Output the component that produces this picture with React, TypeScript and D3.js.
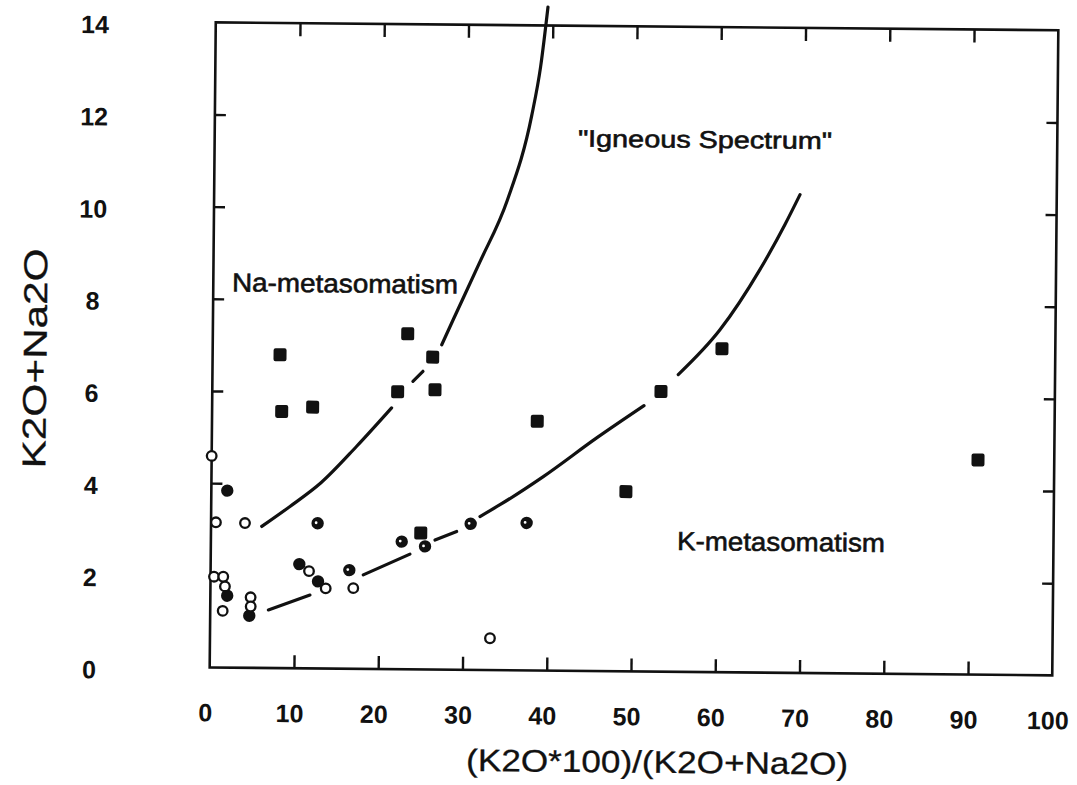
import React, { useEffect, useRef } from "react";
import * as d3 from "d3";

const xTicks = [0, 10, 20, 30, 40, 50, 60, 70, 80, 90, 100];
const yTicks = [0, 2, 4, 6, 8, 10, 12, 14];

// filled squares
const squarePts: [number, number][] = [
  [8.0, 6.8], [8.26, 5.57], [11.93, 5.67], [23.13, 7.28], [22.0, 6.02],
  [26.12, 6.78], [26.43, 6.07], [24.9, 2.96], [38.6, 5.41], [49.2, 3.9],
  [53.25, 6.08], [60.44, 7.02], [90.95, 4.66],
];
// open circles
const openPts: [number, number][] = [
  [0.0, 4.59], [0.58, 3.15], [4.03, 3.14], [0.41, 1.97], [1.51, 1.97],
  [1.72, 1.76], [1.48, 1.23], [4.78, 1.53], [4.8, 1.33], [11.68, 2.11],
  [13.68, 1.74], [16.95, 1.75], [33.23, 0.69],
];
// solid circles
const solidPts: [number, number][] = [
  [1.89, 3.84], [2.0, 1.56], [4.64, 1.13], [10.52, 2.26], [12.76, 1.89],
];
// dotted circles (black with a white speck)
const dottedPts: [number, number][] = [
  [12.65, 3.15], [16.46, 2.14], [22.65, 2.77], [25.42, 2.67], [30.81, 3.17], [37.45, 3.2],
];

// boundary curves, drawn as broken pieces like the original
const upperCurve: [number, number][][] = [
  [[6.02, 3.07], [9.35, 3.51], [13.0, 4.03], [17.2, 4.83], [21.3, 5.67]],
  [[23.8, 6.25], [24.98, 6.47]],
  [[27.18, 7.05], [28.52, 7.6], [31.63, 8.86], [34.8, 10.2], [37.6, 12.04], [38.6, 13.1], [39.41, 14.4]],
];
const lowerCurve: [number, number][][] = [
  [[6.9, 1.26], [11.82, 1.59]],
  [[18.12, 2.04], [23.64, 2.5]],
  [[26.6, 2.81], [29.16, 3.0]],
  [[31.91, 3.33], [34.27, 3.59], [39.38, 4.21], [45.67, 5.06], [51.25, 5.77]],
  [[55.28, 6.45], [60.18, 7.43], [64.87, 8.75], [67.78, 9.73], [69.53, 10.38]],
];

const regionNames = ['"Igneous Spectrum"', "Na-metasomatism", "K-metasomatism"];
const regionAt: [number, number][] = [[58.19, 11.56], [15.63, 8.36], [67.66, 2.84]];

const xTitle = "(K2O*100)/(K2O+Na2O)";
const yTitle = "K2O+Na2O";

function App() {
  const svgRef = useRef<SVGSVGElement>(null);

  useEffect(() => {
    const width = 1077;
    const height = 785;
    const svg = d3.select(svgRef.current);
    svg.selectAll("*").remove();
    svg.attr("width", width).attr("height", height);

    const font = "'Liberation Sans', Arial, Helvetica, sans-serif";
    const ink = "#111";

    // the scan is tilted slightly
    const chart = svg.append("g").attr("transform", "rotate(0.54 634 349)");

    const x = d3.scaleLinear().domain([0, 100]).range([212.7, 1055.3]);
    const y = d3.scaleLinear().domain([0, 14]).range([671.4, 26.3]);

    /* ---------- frame + ticks ---------- */
    chart
      .append("rect")
      .attr("x", x(0))
      .attr("y", y(14))
      .attr("width", x(100) - x(0))
      .attr("height", y(0) - y(14))
      .attr("fill", "none")
      .attr("stroke", ink)
      .attr("stroke-width", 2.6);

    const tickStyle = (g: any) => {
      g.select(".domain").remove();
      g.selectAll("text").remove();
      g.selectAll("line").attr("stroke", ink).attr("stroke-width", 2.4);
    };

    const inner = xTicks.slice(1, -1);
    const innerY = yTicks.slice(1, -1);

    chart.append("g").attr("transform", `translate(0,${y(0)})`)
      .call(d3.axisBottom(x).tickValues(inner).tickSize(-13)).call(tickStyle);
    chart.append("g").attr("transform", `translate(0,${y(14)})`)
      .call(d3.axisTop(x).tickValues(inner).tickSize(-13)).call(tickStyle);
    chart.append("g").attr("transform", `translate(${x(0)},0)`)
      .call(d3.axisLeft(y).tickValues(innerY).tickSize(-11)).call(tickStyle);
    chart.append("g").attr("transform", `translate(${x(100)},0)`)
      .call(d3.axisRight(y).tickValues(innerY).tickSize(-11)).call(tickStyle);

    /* ---------- tick labels ---------- */
    chart.append("g")
      .selectAll("text")
      .data(xTicks)
      .enter()
      .append("text")
      .attr("x", (d) => x(d) - 4)
      .attr("y", y(0) + 45)
      .attr("text-anchor", "middle")
      .attr("dominant-baseline", "central")
      .attr("font-family", font)
      .attr("font-weight", 700)
      .attr("font-size", 25)
      .attr("fill", ink)
      .text((d) => d);

    chart.append("g")
      .selectAll("text")
      .data(yTicks)
      .enter()
      .append("text")
      .attr("x", 92)
      .attr("y", (d) => y(d) + 3)
      .attr("text-anchor", "middle")
      .attr("dominant-baseline", "central")
      .attr("font-family", font)
      .attr("font-weight", 700)
      .attr("font-size", 25)
      .attr("fill", ink)
      .text((d) => d);

    /* ---------- axis titles ---------- */
    chart.append("text")
      .attr("x", 661)
      .attr("y", 762)
      .attr("text-anchor", "middle")
      .attr("dominant-baseline", "central")
      .attr("font-family", font)
      .attr("font-size", 31)
      .attr("textLength", 382)
      .attr("lengthAdjust", "spacingAndGlyphs")
      .attr("fill", ink)
      .attr("stroke", ink)
      .attr("stroke-width", 0.3)
      .text(xTitle);

    chart.append("text")
      .attr("transform", "translate(35,364) rotate(-90)")
      .attr("text-anchor", "middle")
      .attr("dominant-baseline", "central")
      .attr("font-family", font)
      .attr("font-size", 33)
      .attr("textLength", 220)
      .attr("lengthAdjust", "spacingAndGlyphs")
      .attr("fill", ink)
      .attr("stroke", ink)
      .attr("stroke-width", 0.3)
      .text(yTitle);

    /* ---------- curves ---------- */
    const line = d3
      .line<[number, number]>()
      .x((d) => x(d[0]))
      .y((d) => y(d[1]))
      .curve(d3.curveMonotoneX);

    chart.append("g")
      .selectAll("path")
      .data([...upperCurve, ...lowerCurve])
      .enter()
      .append("path")
      .attr("d", (d) => line(d))
      .attr("fill", "none")
      .attr("stroke", ink)
      .attr("stroke-width", 3.2)
      .attr("stroke-linecap", "round");

    /* ---------- region labels ---------- */
    const widths = [254, 226, 208];
    const sizes = [24, 26, 26];
    chart.append("g")
      .selectAll("text")
      .data(regionNames)
      .enter()
      .append("text")
      .attr("x", (d, i) => x(regionAt[i][0]))
      .attr("y", (d, i) => y(regionAt[i][1]))
      .attr("text-anchor", "middle")
      .attr("dominant-baseline", "central")
      .attr("font-family", font)
      .attr("font-size", (d, i) => sizes[i])
      .attr("textLength", (d, i) => widths[i])
      .attr("lengthAdjust", "spacingAndGlyphs")
      .attr("fill", ink)
      .attr("stroke", ink)
      .attr("stroke-width", 0.6)
      .text((d) => d);

    /* ---------- markers ---------- */
    chart.append("g")
      .selectAll("rect")
      .data(squarePts)
      .enter()
      .append("rect")
      .attr("x", (d) => x(d[0]) - 6.5)
      .attr("y", (d) => y(d[1]) - 6.5)
      .attr("width", 13)
      .attr("height", 13)
      .attr("rx", 2)
      .attr("fill", ink);

    chart.append("g")
      .selectAll("circle")
      .data([...solidPts, ...dottedPts])
      .enter()
      .append("circle")
      .attr("cx", (d) => x(d[0]))
      .attr("cy", (d) => y(d[1]))
      .attr("r", 6.2)
      .attr("fill", ink);

    chart.append("g")
      .selectAll("circle")
      .data(dottedPts)
      .enter()
      .append("circle")
      .attr("cx", (d) => x(d[0]) - 1.5)
      .attr("cy", (d) => y(d[1]) - 0.5)
      .attr("r", 1.4)
      .attr("fill", "#fff");

    chart.append("g")
      .selectAll("circle")
      .data(openPts)
      .enter()
      .append("circle")
      .attr("cx", (d) => x(d[0]))
      .attr("cy", (d) => y(d[1]))
      .attr("r", 4.8)
      .attr("fill", "#fff")
      .attr("stroke", ink)
      .attr("stroke-width", 2.3);
  }, []);

  return (
    <div style={{ width: 1077, height: 785, background: "#fff" }}>
      <style>{`body{margin:0;background:#fff}`}</style>
      <svg ref={svgRef} style={{ display: "block" }}></svg>
    </div>
  );
}

export default App;
